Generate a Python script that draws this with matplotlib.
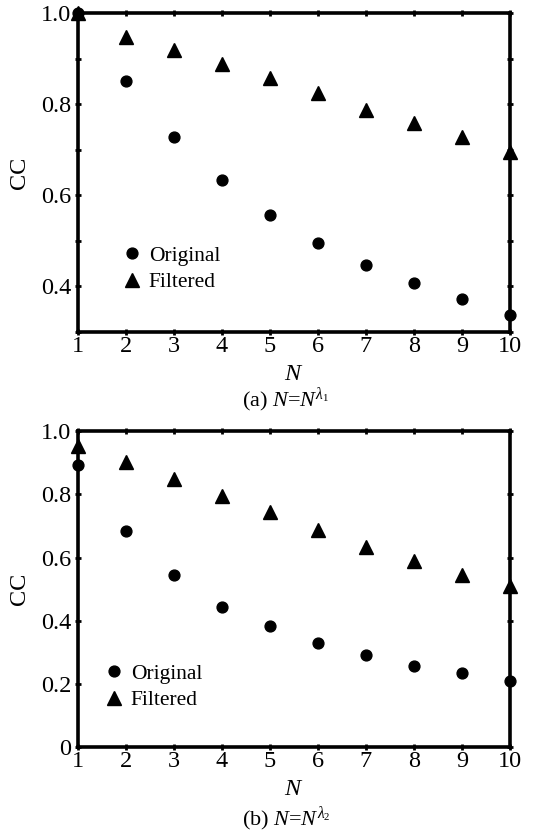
import matplotlib
matplotlib.use("Agg")
import matplotlib.pyplot as plt
from matplotlib.ticker import MultipleLocator

plt.rcParams['font.family'] = ['Liberation Serif', 'DejaVu Serif']
plt.rcParams['mathtext.fontset'] = 'custom'
plt.rcParams['mathtext.rm'] = 'Liberation Serif'
plt.rcParams['mathtext.it'] = 'Liberation Serif:italic'

N = [1, 2, 3, 4, 5, 6, 7, 8, 9, 10]
orig_a = [1.0, 0.852, 0.727, 0.633, 0.557, 0.496, 0.447, 0.406, 0.372, 0.337]
filt_a = [1.0, 0.947, 0.919, 0.888, 0.857, 0.824, 0.787, 0.759, 0.728, 0.695]
orig_b = [0.893, 0.684, 0.545, 0.445, 0.384, 0.329, 0.293, 0.258, 0.234, 0.209]
filt_b = [0.953, 0.903, 0.847, 0.795, 0.743, 0.687, 0.634, 0.590, 0.545, 0.511]
yticks_a = [0.4, 0.6, 0.8, 1.0]
yticks_b = [0, 0.2, 0.4, 0.6, 0.8, 1.0]
ytick_labels_b = ['0', '0.2', '0.4', '0.6', '0.8', '1.0']

W, H = 537, 840
fig = plt.figure(figsize=(W / 100, H / 100), dpi=100)

FS = 17.5
LFS = 15.5

def make_panel(rect, orig, filt, ylim, yticks, yticklabels, minor, leg_anchor):
    ax = fig.add_axes(rect)
    ax.plot(N, filt, linestyle='none', marker='^', color='black', markersize=9.5,
            clip_on=False, zorder=5, label='Filtered')
    ax.plot(N, orig, linestyle='none', marker='o', color='black', markersize=7.8,
            clip_on=False, zorder=6, label='Original')
    ax.set_xlim(1, 10)
    ax.set_ylim(*ylim)
    ax.set_xticks(N)
    ax.set_xticklabels([str(v) for v in N])
    ax.set_yticks(yticks)
    ax.set_yticklabels(yticklabels)
    if minor:
        ax.yaxis.set_minor_locator(MultipleLocator(minor))
    for s in ax.spines.values():
        s.set_linewidth(2.6)
    ax.tick_params(axis='both', which='both', direction='inout', length=5, width=2,
                   top=True, right=True, labelsize=FS, pad=2)
    ax.tick_params(axis='x', pad=0.5)
    ax.set_ylabel('CC', fontsize=FS, labelpad=8)
    ax.set_xlabel('$N$', fontsize=FS, labelpad=5)
    h, l = ax.get_legend_handles_labels()
    ax.legend([h[1], h[0]], [l[1], l[0]], loc='upper left', bbox_to_anchor=leg_anchor,
              frameon=False, fontsize=LFS, handletextpad=0.3, borderpad=0,
              labelspacing=0.3, handlelength=1.0, borderaxespad=0)
    return ax

x0 = 77.7 / W
w = (510 - 77.7) / W
ax1 = make_panel([x0, 1 - 331.7 / H, w, (331.7 - 13.3) / H], orig_a, filt_a,
                 (0.3, 1.0), yticks_a, ['0.4', '0.6', '0.8', '1.0'], 0.1,
                 (0.10, 0.27))
ax2 = make_panel([x0, 1 - 747.3 / H, w, (747.3 - 431) / H], orig_b, filt_b,
                 (0, 1.0), yticks_b, ytick_labels_b, None,
                 (0.058, 0.265))

fig.text(286 / W, 1 - 400 / H, r'(a) $N$=$N^{\lambda_1}$', ha='center', va='center', fontsize=16)
fig.text(286 / W, 1 - 819 / H, r'(b) $N$=$N^{\lambda_2}$', ha='center', va='center', fontsize=16)

fig.savefig('out.png', dpi=100)
